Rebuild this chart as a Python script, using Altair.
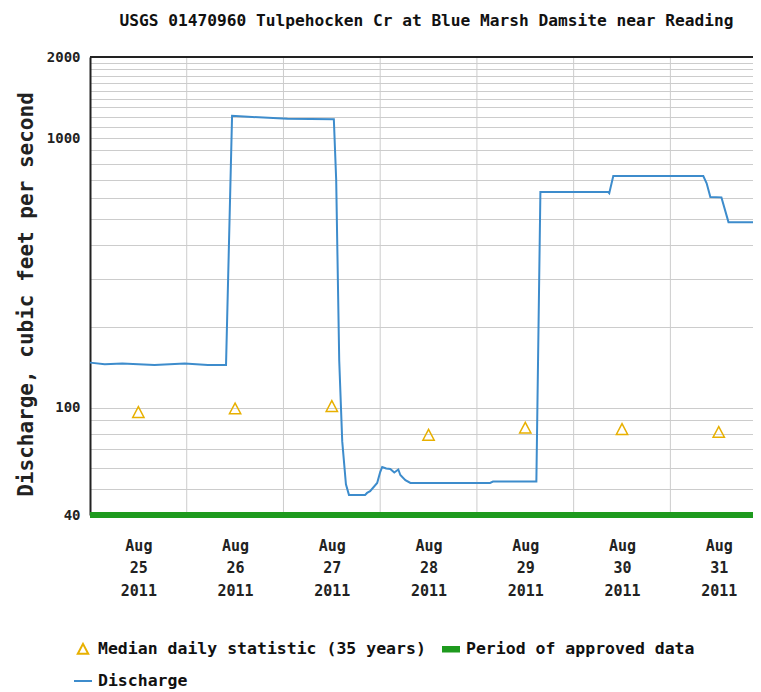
import altair as alt
import pandas as pd

FONT = "DejaVu Sans Mono"
TITLE = "USGS 01470960 Tulpehocken Cr at Blue Marsh Damsite near Reading"
Y_TITLE = "Discharge, cubic feet per second"

# Discharge (cfs), instantaneous values
q_time = ["2011-08-25T00:00", "2011-08-25T03:40", "2011-08-25T08:00", "2011-08-25T16:00",
          "2011-08-25T23:30", "2011-08-26T05:15", "2011-08-26T09:45", "2011-08-26T11:15",
          "2011-08-26T15:15", "2011-08-27T01:00", "2011-08-27T12:30", "2011-08-27T13:05",
          "2011-08-27T13:50", "2011-08-27T14:35", "2011-08-27T15:30", "2011-08-27T16:15",
          "2011-08-27T20:15", "2011-08-27T20:45", "2011-08-27T21:30", "2011-08-27T23:15",
          "2011-08-28T00:00", "2011-08-28T00:30", "2011-08-28T01:30", "2011-08-28T02:30",
          "2011-08-28T03:30", "2011-08-28T04:30", "2011-08-28T05:00", "2011-08-28T06:15",
          "2011-08-28T07:30", "2011-08-29T03:15", "2011-08-29T04:00", "2011-08-29T14:45",
          "2011-08-29T15:45", "2011-08-30T08:35", "2011-08-30T08:50", "2011-08-30T09:50",
          "2011-08-31T08:10", "2011-08-31T09:00", "2011-08-31T09:55", "2011-08-31T12:40",
          "2011-08-31T14:25", "2011-08-31T20:30"]
q_value = [147, 145, 146, 144, 146, 144, 144, 1210,
           1200, 1180, 1175, 700,
           150, 75, 52, 47.5,
           47.5, 48.3, 49, 52.6,
           57.7, 60.3, 59.5, 59.3,
           57.5, 59, 56.3, 53.9,
           52.6, 52.6, 53.2, 53.2,
           631, 631, 625, 723,
           723, 680, 605, 603,
           488, 488]

# Median daily statistic (35 years)
median_time = ["2011-08-25T12:00", "2011-08-26T12:00", "2011-08-27T12:00", "2011-08-28T12:00",
               "2011-08-29T12:00", "2011-08-30T12:00", "2011-08-31T12:00"]
median_value = [96, 99, 101, 79, 84, 83, 81]

# Period of approved data
approved_time = ["2011-08-25T00:00", "2011-08-31T20:30"]
approved_value = [40, 40]

# Day boundaries (vertical grid) and axis values
midnights = ["2011-08-26T00:00", "2011-08-27T00:00", "2011-08-28T00:00",
             "2011-08-29T00:00", "2011-08-30T00:00", "2011-08-31T00:00"]
y_domain = [40, 2000]
y_grid = [40, 50, 60, 70, 80, 90, 100, 200, 300, 400, 500, 600, 700, 800, 900,
          1000, 1100, 1200, 1300, 1400, 1500, 1600, 1700, 1800, 1900, 2000]
y_labels = [40, 100, 1000, 2000]
label_days = [25, 26, 27, 28, 29, 30, 31]

series = ["Median daily statistic (35 years)", "Period of approved data", "Discharge"]
colors = ["#e8b000", "#1e9a1e", "#3d8ccc"]
shapes = ["M0,-0.6L0.58,0.5L-0.58,0.5Z",
          "M-1,-0.24H1M-1,-0.08H1M-1,0.08H1M-1,0.24H1",
          "stroke"]

df_q = pd.DataFrame({"t": q_time, "v": q_value})
df_med = pd.DataFrame({"t": median_time, "v": median_value, "series": series[0]})
df_app = pd.DataFrame({"t": approved_time, "v": approved_value})
df_mid = pd.DataFrame({"t": midnights})
df_top = pd.DataFrame({"v": [y_domain[1]]})

xscale = alt.Scale(domain=[alt.DateTime(year=2011, month=8, date=25, hours=0),
                           alt.DateTime(year=2011, month=8, date=31, hours=20, minutes=30)])
yscale = alt.Scale(type="log", domain=y_domain, nice=False)

x_vals = [alt.DateTime(year=2011, month=8, date=d, hours=12) for d in label_days]

xaxis = alt.Axis(values=x_vals, grid=False, ticks=False, domain=False,
                 labelExpr="[timeFormat(datum.value, '%b'), timeFormat(datum.value, '%d'), timeFormat(datum.value, '%Y')]",
                 labelFont=FONT, labelFontWeight="bold", labelFontSize=15, labelLineHeight=22.5,
                 labelPadding=23, labelColor="#222", labelAngle=0, labelOverlap=False, title=None)

label_test = "indexof([" + ", ".join(str(v) for v in y_labels) + "], datum.value) >= 0"
yaxis = alt.Axis(values=y_grid, grid=True, gridColor="#cccccc", gridWidth=1, ticks=False,
                 domain=True, domainColor="#222", domainWidth=2,
                 labelExpr=label_test + " ? format(datum.value, 'd') : ''",
                 labelFont=FONT, labelFontWeight="bold", labelFontSize=14, labelColor="#222",
                 labelPadding=10, labelOverlap=False,
                 title=Y_TITLE, titleFont=FONT, titleFontWeight="bold", titleFontSize=21,
                 titleColor="#222", titlePadding=10, titleY=237)

vgrid = alt.Chart(df_mid).mark_rule(color="#cccccc", strokeWidth=1).encode(
    x=alt.X("t:T", scale=xscale, axis=xaxis)
)

top_border = alt.Chart(df_top).mark_rule(color="#222", strokeWidth=2).encode(
    y=alt.Y("v:Q", scale=yscale, axis=yaxis)
)

discharge = alt.Chart(df_q).mark_line(color=colors[2], strokeWidth=2).encode(
    x=alt.X("t:T", scale=xscale, axis=xaxis),
    y=alt.Y("v:Q", scale=yscale, axis=yaxis)
)

approved = alt.Chart(df_app).mark_line(color=colors[1], strokeWidth=6, clip=False).encode(
    x=alt.X("t:T", scale=xscale, axis=xaxis),
    y=alt.Y("v:Q", scale=yscale, axis=yaxis)
)

legend = alt.Legend(title=None, orient="none", legendX=-17, legendY=582, columns=2,
                    direction="horizontal", labelFont=FONT, labelFontWeight="bold",
                    labelFontSize=16.5, labelColor="#111", labelLimit=600,
                    symbolSize=324, symbolStrokeWidth=2, symbolOpacity=1,
                    labelOffset=5, rowPadding=13, columnPadding=12, padding=0,
                    symbolFillColor="transparent")

medians = alt.Chart(df_med).mark_point(filled=False, strokeWidth=1.5, size=380, opacity=1).encode(
    x=alt.X("t:T", scale=xscale, axis=xaxis),
    y=alt.Y("v:Q", scale=yscale, axis=yaxis),
    color=alt.Color("series:N", scale=alt.Scale(domain=series, range=colors), legend=legend),
    shape=alt.Shape("series:N", scale=alt.Scale(domain=series, range=shapes), legend=legend),
)

chart = alt.layer(vgrid, top_border, discharge, medians, approved).properties(
    width=663, height=458,
    title=alt.TitleParams(TITLE, font=FONT, fontWeight="bold", fontSize=16.2, color="#111",
                          anchor="middle", offset=21, dx=5),
    autosize=alt.AutoSizeParams(type="none"),
    padding={"left": 82, "top": 49, "right": 0, "bottom": 175},
).configure_view(stroke=None).configure(background="white")

chart.save("out.html", embed_options={"renderer": "svg", "actions": False})
